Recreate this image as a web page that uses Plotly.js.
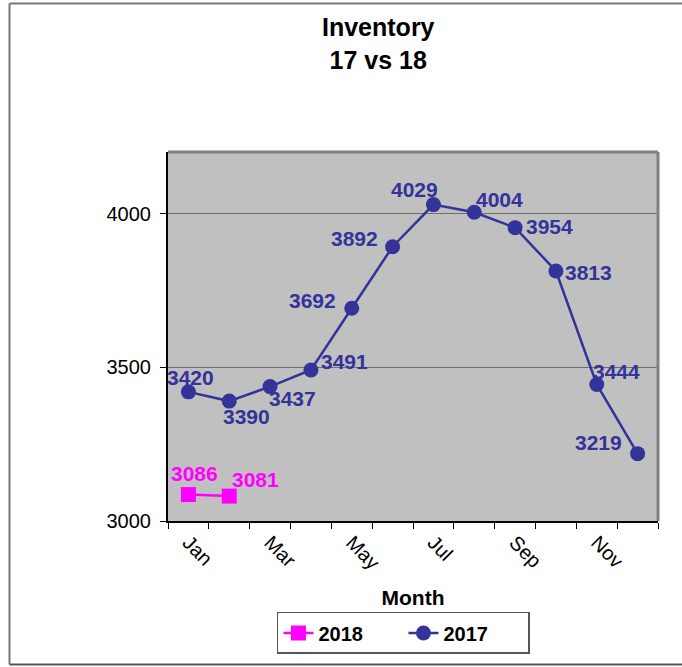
<!DOCTYPE html>
<html>
<head>
<meta charset="utf-8">
<script src="https://cdn.plot.ly/plotly-3.0.1.min.js"></script>
<style>
html,body{margin:0;padding:0;background:#fff;}
#chart{width:682px;height:667px;}
</style>
</head>
<body>
<div id="chart"></div>
<script>
const months = ["Jan","Feb","Mar","Apr","May","Jun","Jul","Aug","Sep","Oct","Nov","Dec"];
const inv2017 = [3420,3390,3437,3491,3692,3892,4029,4004,3954,3813,3444,3219];
const inv2018 = [3086,3081];
const shownTicks = ["Jan","Mar","May","Jul","Sep","Nov"];

// label offsets in pixels (dx right, dy down)
const off2017 = [[2,-14],[17,15],[22,12],[34,-9],[-39,-8],[-38,-8],[-19,-15],[25,-13],[34,-1],[33,1],[20,-13],[-39,-11]];
const off2018 = [[6,-21],[26,-17]];

const xIdx = arr => arr.map((_, i) => i + 1);
const FONT = "Arial, 'Liberation Sans', sans-serif";
const C17 = "#333399", C18 = "#FF00FF";

const traces = [
  {x: xIdx(inv2018), y: inv2018, name: "2018", type: "scatter", mode: "lines+markers",
   line: {color: C18, width: 2.5}, marker: {symbol: "square", size: 15, color: C18}},
  {x: xIdx(inv2017), y: inv2017, name: "2017", type: "scatter", mode: "lines+markers",
   line: {color: C17, width: 2.5}, marker: {symbol: "circle", size: 15, color: C17}}
];

const annotations = [];
inv2017.forEach((v, i) => annotations.push({x: i + 1, y: v, xref: "x", yref: "y", text: String(v), showarrow: false,
  xshift: off2017[i][0], yshift: -off2017[i][1], font: {family: FONT, size: 21, color: C17, weight: "bold"}}));
inv2018.forEach((v, i) => annotations.push({x: i + 1, y: v, xref: "x", yref: "y", text: String(v), showarrow: false,
  xshift: off2018[i][0], yshift: -off2018[i][1], font: {family: FONT, size: 21, color: C18, weight: "bold"}}));
annotations.push({xref: "paper", yref: "paper", x: 0.4286, y: 1.2927, xanchor: "center", yanchor: "middle",
  showarrow: false, text: "<b>Inventory</b><br><b>17 vs 18</b>", font: {family: FONT, size: 25, color: "#000"}});

const layout = {
  width: 682, height: 667,
  margin: {l: 168, r: 24, t: 152, b: 146},
  paper_bgcolor: "#ffffff", plot_bgcolor: "#C0C0C0",
  font: {family: FONT, size: 20, color: "#000"},
  showlegend: true,
  xaxis: {
    range: [0.5, 12.5], tickmode: "array",
    tickvals: shownTicks.map(m => months.indexOf(m) + 1), ticktext: shownTicks,
    tickangle: 45, ticks: "", showgrid: false, zeroline: false,
    showline: true, linecolor: "#000", linewidth: 2,
    minor: {tickmode: "linear", tick0: 0.5, dtick: 1, ticks: "outside", ticklen: 6, tickcolor: "#000", showgrid: false},
    tickfont: {family: FONT, size: 20},
    title: {text: "<b>Month</b>", font: {family: FONT, size: 21}, standoff: 18}
  },
  yaxis: {
    range: [3000, 4200], tickmode: "linear", tick0: 3000, dtick: 500,
    ticks: "outside", ticklen: 6, tickcolor: "#000", ticklabelstandoff: 5,
    showgrid: true, gridcolor: "#6e6e6e", gridwidth: 1, zeroline: false,
    showline: true, linecolor: "#000", linewidth: 2,
    tickfont: {family: FONT, size: 20}
  },
  legend: {orientation: "h", x: 0.2224, y: -0.2466, xanchor: "left", yanchor: "top",
           bordercolor: "#555", borderwidth: 1.5, bgcolor: "#fff", entrywidth: 80, entrywidthmode: "pixels",
           font: {family: FONT, size: 20, weight: "bold"}, traceorder: "normal"},
  annotations: annotations,
  shapes: [
    {type: "line", xref: "paper", yref: "paper", x0: 0, x1: 1, y0: 1, y1: 1, line: {color: "#808080", width: 3}},
    {type: "line", xref: "paper", yref: "paper", x0: 1, x1: 1, y0: 0, y1: 1, line: {color: "#808080", width: 3}},
    {type: "line", xref: "paper", yref: "paper", x0: -0.3235, x1: 1.1, y0: 1.4024, y1: 1.4024, line: {color: "#777", width: 2}},
    {type: "line", xref: "paper", yref: "paper", x0: -0.3235, x1: -0.3235, y0: -0.3889, y1: 1.4024, line: {color: "#777", width: 2}},
    {type: "line", xref: "paper", yref: "paper", x0: -0.3235, x1: 1.1, y0: -0.3889, y1: -0.3889, line: {color: "#555", width: 2}}
  ]
};

Plotly.newPlot("chart", traces, layout, {staticPlot: true, displayModeBar: false});
</script>
</body>
</html>
